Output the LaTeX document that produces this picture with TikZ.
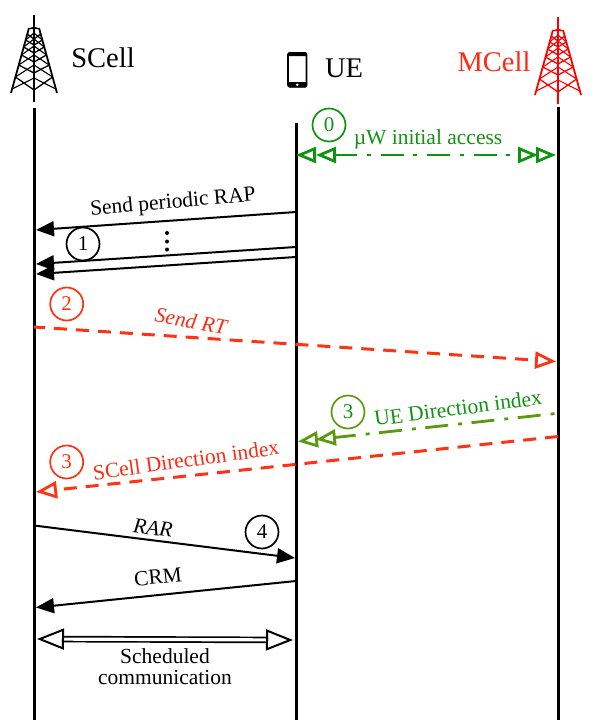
\documentclass[tikz,border=0pt]{standalone}
\usepackage{fontspec}
\setmainfont{Liberation Serif}
\usetikzlibrary{arrows.meta}
\definecolor{cred}{HTML}{FF3314}
\definecolor{tred}{HTML}{FF2A12}
\definecolor{cgreen}{HTML}{109410}
\definecolor{colive}{HTML}{5A9A0E}
\tikzset{
  x=1pt,y=-1pt,
  lab/.style={font=\fontsize{21.5}{24}\selectfont,inner sep=0pt,align=center},
  head/.style={font=\fontsize{28.5}{30}\selectfont,inner sep=0pt},
  num/.style={circle,draw,line width=1.7pt,minimum size=33pt,inner sep=0pt,font=\fontsize{21}{24}\selectfont},
  life/.style={line width=3pt,black},
  solidarrow/.style={line width=2pt,black,-{Triangle[length=18pt,width=15pt]}},
  dashred/.style={line width=3pt,cred,dash pattern=on 13pt off 9pt},
  dashgreen/.style={line width=2.8pt,dash pattern=on 23pt off 9.5pt on 4pt off 10pt},
  gt/.tip={Triangle[fill=none,length=20pt,width=16pt,line width=2.8pt]},
  bt/.tip={Triangle[fill=none,length=27pt,width=21pt,line width=2pt,color=black]},
  pics/tower/.style={code={
    \draw[line width=1.2pt,#1] (0,-87) -- (0,0);
    \fill[#1] (-5.5,-73) to[bend left=40] (5.5,-73) -- cycle;
    \draw[line width=1.8pt,#1] (-5,-74) -- (-23,-9) (5,-74) -- (23,-9);
    \draw[line width=1.6pt,#1] (0,-80) -- (0,-62);
    \draw[line width=2.2pt,#1] (0,-14) -- (0,0);
    \foreach \yy/\hw/\dd in {-68/6.7/5,-62/8.4/5,-55/10.3/6,-47/12.5/7,-37/15.3/8,-25/18.6/13}{
      \draw[line width=1.3pt,#1] (-\hw,\yy) -- (0,\yy+\dd) -- (\hw,\yy);
    }
    \foreach \yy/\hw/\dd in {-62/8.4/7,-55/10.3/8,-47/12.5/9,-37/15.3/10,-25/18.6/12,-13/21.9/11}{
      \draw[line width=1.1pt,#1] (-\hw,\yy) -- (0,\yy-\dd) -- (\hw,\yy);
    }
  }}
}
\begin{document}
\begin{tikzpicture}
\useasboundingbox (0,0) rectangle (598,720);
% lifelines
\coordinate (sT) at (34,108); \coordinate (sB) at (34,720);
\coordinate (uT) at (296,123); \coordinate (uB) at (296,720);
\coordinate (mT) at (558,107); \coordinate (mB) at (558,720);
\draw[life] (sT) -- (sB);
\draw[life] (uT) -- (uB);
\draw[life] (mT) -- (mB);
% towers
\pic at (34,102) {tower=black};
\pic at (558,104) {tower=red};
% header
\node[head] (scell) at (103,58) {SCell};
\node[head,text=tred] (mcell) at (494,62) {MCell};
\node[head] (ue) at (344,68) {UE};
\draw[line width=1.8pt,rounded corners=2pt] (288,53) rectangle (306.5,86.5);
\fill[rounded corners=1.5pt] (287.5,52) rectangle (307,56);
\fill[rounded corners=1.5pt] (287.5,82) rectangle (307,87.5);
\fill[white] (297.2,84.8) circle (1.4pt);
% step 0
\node[num,draw=cgreen,text=cgreen] (n0) at (329,125) {0};
\node[lab,text=cgreen] (l0) at (428,139) {µW initial access};
\coordinate (a0s) at (298,155); \coordinate (a0e) at (556,155);
\draw[dashgreen,cgreen,shorten <=36pt,shorten >=37pt] (a0s) -- (a0e);
\path[tips=true,draw=none,{gt[color=cgreen,sep=-2pt]gt[color=cgreen]}-{gt[color=cgreen,sep=-2pt]gt[color=cgreen]}] (a0s) -- (a0e);
% RAP
\coordinate (r1u) at (296,212); \coordinate (r1s) at (36,230);
\coordinate (r2u) at (296,247); \coordinate (r2s) at (36,264);
\coordinate (r3u) at (296,257); \coordinate (r3s) at (36,274);
\draw[solidarrow] (r1u) -- (r1s);
\draw[solidarrow] (r2u) -- (r2s);
\draw[solidarrow] (r3u) -- (r3s);
\node[lab,rotate=5] (lrap) at (173,203) {Send periodic RAP};
\node[num] (n1) at (83,244) {1};
\foreach \yy in {233,241.5,249.5} \fill (167,\yy) circle (2pt);
% RT
\node[num,draw=cred,text=cred] (n2) at (66.7,304) {2};
\coordinate (rts) at (34,327); \coordinate (rtm) at (556,361.5);
\draw[dashred,dash phase=2pt,-{Triangle[open,length=21pt,width=17pt,line width=2.8pt]}] (rts) -- (rtm);
\node[lab,text=tred,rotate=-10,font=\fontsize{21.5}{24}\selectfont\itshape] (lrt) at (191,321) {Send RT};
% UE direction
\node[num,draw=colive,text=cgreen] (n3a) at (348,412) {3};
\node[lab,text=cgreen,rotate=7.3] (lue) at (458,408) {UE Direction index};
\coordinate (uem) at (556,413.5); \coordinate (ueu) at (298,441.5);
\draw[dashgreen,dash phase=31pt,colive,shorten >=36pt] (uem) -- (ueu);
\path[tips=true,draw=none,-{gt[color=colive,sep=-2pt]gt[color=colive]}] (uem) -- (ueu);
% SCell direction
\coordinate (scm) at (558,436.5); \coordinate (scs) at (36,492);
\draw[dashred,-{Triangle[open,length=21pt,width=17pt,line width=2.8pt]}] (scm) -- (scs);
\node[num,draw=cred,text=cred] (n3b) at (66.7,462) {3};
\node[lab,text=tred,rotate=8] (lsc) at (186,460) {SCell Direction index};
% RAR
\coordinate (rars) at (34,525.5); \coordinate (raru) at (295,558);
\draw[solidarrow] (rars) -- (raru);
\node[lab,rotate=-7,font=\fontsize{21.5}{24}\selectfont\itshape] (lrar) at (153,528) {RAR};
\node[num] (n4) at (262,532) {4};
% CRM
\coordinate (crmu) at (296,581); \coordinate (crms) at (36,607.5);
\draw[solidarrow] (crmu) -- (crms);
\node[lab,rotate=5.5] (lcrm) at (158,577) {CRM};
% scheduled
\coordinate (scha) at (37,639); \coordinate (schb) at (293,640);
\draw[line width=1.7pt,double=white,double distance=3.2pt,shorten <=25pt,shorten >=25pt] (scha) -- (schb);
\path[tips=true,draw=none,{bt}-{bt}] (scha) -- (schb);
\node[lab] (lsched) at (165,667) {Scheduled\\[-3pt]communication};
\end{tikzpicture}
\end{document}
